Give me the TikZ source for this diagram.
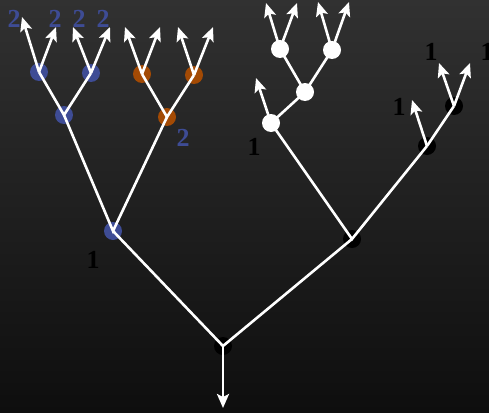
\documentclass[tikz,border=0pt]{standalone}
\usepackage{fontspec}
\setmainfont{Liberation Serif}
\usetikzlibrary{arrows.meta}
\definecolor{nblue}{HTML}{3E4C95}
\definecolor{norange}{HTML}{A34A04}
\definecolor{bgtop}{HTML}{313131}
\definecolor{bgbot}{HTML}{0E0E0E}
\begin{document}
\begin{tikzpicture}[x=1pt,y=-1pt,
  dot/.style={circle,minimum size=18pt,inner sep=0pt},
  bdot/.style={dot,fill=nblue},
  odot/.style={dot,fill=norange},
  wdot/.style={dot,fill=white},
  kdot/.style={dot,fill=black},
  edge/.style={white,line width=2.6pt},
  arr/.style={edge,-{Stealth[length=14pt,width=12pt,inset=3pt]}},
  lbl/.style={font=\fontsize{26}{26}\selectfont\bfseries,inner sep=0pt},
  blbl/.style={lbl,text=nblue},
  klbl/.style={lbl,text=black}]
\shade[top color=bgtop,bottom color=bgbot] (0,0) rectangle (489,412);
\useasboundingbox (0,0) rectangle (489,412);
% nodes
\node[kdot] (root) at (223,346) {};
\node[kdot] (R1) at (352,239) {};
\node[bdot] (L1) at (113,231) {};
\node[bdot] (B2) at (64,115) {};
\node[odot] (O2) at (167,117) {};
\node[bdot] (B3a) at (39,72) {};
\node[bdot] (B3b) at (91,73) {};
\node[odot] (O3a) at (142,74) {};
\node[odot] (O3b) at (194,75) {};
\node[wdot] (W1) at (271,123) {};
\node[wdot] (W2) at (305,92) {};
\node[wdot] (W3a) at (280,49) {};
\node[wdot] (W3b) at (332,50) {};
\node[kdot] (K1) at (427,146) {};
\node[kdot] (K2) at (454,106) {};
% free ends
\coordinate (t0) at (223,408);
\coordinate (a1) at (22,17);  \coordinate (a2) at (56,27);
\coordinate (a3) at (73,27);  \coordinate (a4) at (110,27);
\coordinate (a5) at (125,27); \coordinate (a6) at (160,27);
\coordinate (a7) at (178,27); \coordinate (a8) at (213,27);
\coordinate (w1) at (266,3);  \coordinate (w2) at (297,3);
\coordinate (w3) at (318,2);  \coordinate (w4) at (349,2);
\coordinate (w5) at (256,78);
\coordinate (k1) at (412,100);
\coordinate (k2) at (439,63); \coordinate (k3) at (470,63);
% edges
\draw[edge] (L1.center) -- (root.center) -- (R1.center);
\draw[edge] (B2.center) -- (L1.center) -- (O2.center);
\draw[edge] (B3a.center) -- (B2.center) -- (B3b.center);
\draw[edge] (O3a.center) -- (O2.center) -- (O3b.center);
\draw[edge] (W1.center) -- (R1.center) -- (K1.center);
\draw[edge] (W1.center) -- (W2.center);
\draw[edge] (W3a.center) -- (W2.center) -- (W3b.center);
\draw[edge] (K1.center) -- (K2.center);
% arrows
\draw[arr] (root.center) -- (t0);
\draw[arr] (B3a.center) -- (a1);
\draw[arr] (B3a.center) -- (a2);
\draw[arr] (B3b.center) -- (a3);
\draw[arr] (B3b.center) -- (a4);
\draw[arr] (O3a.center) -- (a5);
\draw[arr] (O3a.center) -- (a6);
\draw[arr] (O3b.center) -- (a7);
\draw[arr] (O3b.center) -- (a8);
\draw[arr] (W3a.center) -- (w1);
\draw[arr] (W3a.center) -- (w2);
\draw[arr] (W3b.center) -- (w3);
\draw[arr] (W3b.center) -- (w4);
\draw[arr] (W1.center) -- (w5);
\draw[arr] (K1.center) -- (k1);
\draw[arr] (K2.center) -- (k2);
\draw[arr] (K2.center) -- (k3);
% labels
\node[blbl] (l1) at (14,19) {2};
\node[blbl] (l2) at (55,19) {2};
\node[blbl] (l3) at (79,19) {2};
\node[blbl] (l4) at (103,19) {2};
\node[blbl] (l5) at (183,138) {2};
\node[klbl] (l6) at (93,260) {1};
\node[klbl] (l7) at (254,147) {1};
\node[klbl] (l8) at (399,107) {1};
\node[klbl] (l9) at (431,52) {1};
\node[klbl] (l10) at (487,52) {1};
\end{tikzpicture}
\end{document}
